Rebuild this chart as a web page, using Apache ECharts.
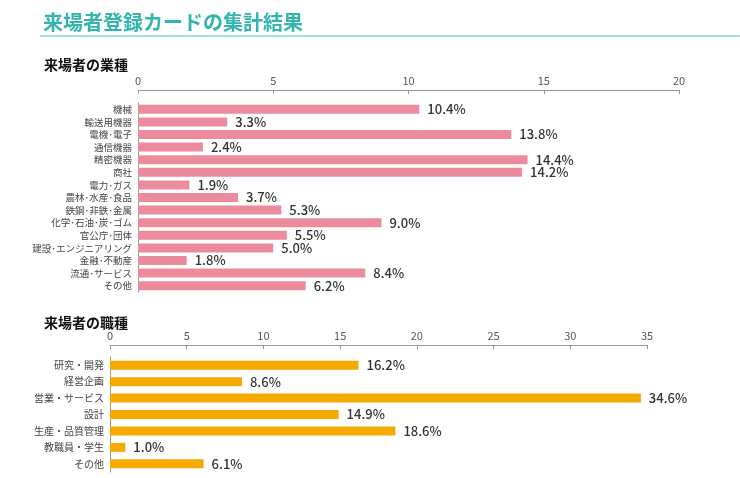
<!DOCTYPE html>
<html><head><meta charset="utf-8">
<script src="https://cdn.jsdelivr.net/npm/echarts@6/dist/echarts.min.js"></script>
<style>html,body{margin:0;padding:0;background:#fff}#c{width:740px;height:478px}</style>
</head><body><div id="c"></div>
<script>
const industryCats = ['機械','輸送用機器','電機･電子','通信機器','精密機器','商社','電力･ガス','農林･水産･食品','鉄鋼･非鉄･金属','化学･石油･炭･ゴム','官公庁･団体','建設･エンジニアリング','金融･不動産','流通･サービス','その他'];
const industryVals = [10.4,3.3,13.8,2.4,14.4,14.2,1.9,3.7,5.3,9.0,5.5,5.0,1.8,8.4,6.2];
const jobCats = ['研究・開発','経営企画','営業・サービス','設計','生産・品質管理','教職員・学生','その他'];
const jobVals = [16.2,8.6,34.6,14.9,18.6,1.0,6.1];

const FONT = '"Noto Sans CJK JP","Noto Sans",sans-serif';
const chart = echarts.init(document.getElementById('c'));
const valLabel = {show:true, position:'right', distance:8, fontSize:13, fontWeight:500, color:'#333', fontFamily:FONT,
  formatter: p => p.value.toFixed(1) + '%'};
const xAx = (gi, max, offset) => ({gridIndex:gi, type:'value', position:'top', min:0, max:max, interval:5, offset:offset,
  axisLine:{show:true, lineStyle:{color:'#999', width:1}},
  axisTick:{show:true, inside:true, length:4, lineStyle:{color:'#999'}},
  axisLabel:{fontSize:11, color:'#555', margin:4, fontFamily:FONT},
  splitLine:{show:false}});
const yAx = (gi, cats, fs) => ({gridIndex:gi, type:'category', data:cats, inverse:true,
  axisLine:{show:true, lineStyle:{color:'#999', width:1}}, axisTick:{show:false},
  axisLabel:{interval:0, fontSize:fs, color:'#444', margin:6, fontFamily:FONT}});
chart.setOption({
  animation:false,
  textStyle:{fontFamily:FONT},
  title:[
    {text:'来場者登録カードの集計結果', left:38, top:7, textStyle:{fontSize:20, fontWeight:'bold', color:'#33b5ad', fontFamily:FONT}},
    {text:'来場者の業種', left:39, top:53, textStyle:{fontSize:14, fontWeight:'bold', color:'#111', fontFamily:FONT}},
    {text:'来場者の職種', left:39, top:311, textStyle:{fontSize:14, fontWeight:'bold', color:'#111', fontFamily:FONT}}
  ],
  graphic:[{type:'rect', shape:{x:40, y:35, width:700, height:2}, style:{fill:'#a6ddd9'}}],
  grid:[
    {left:138, right:61, top:103, height:189},
    {left:110, right:93, top:357, height:115}
  ],
  xAxis:[xAx(0,20,13), xAx(1,35,12)],
  yAxis:[yAx(0,industryCats,9.5), yAx(1,jobCats,10)],
  series:[
    {type:'bar', xAxisIndex:0, yAxisIndex:0, data:industryVals, barWidth:9, itemStyle:{color:'#ec8a9e'}, label:valLabel},
    {type:'bar', xAxisIndex:1, yAxisIndex:1, data:jobVals, barWidth:9, itemStyle:{color:'#f5aa00'}, label:valLabel}
  ]
});
</script></body></html>
